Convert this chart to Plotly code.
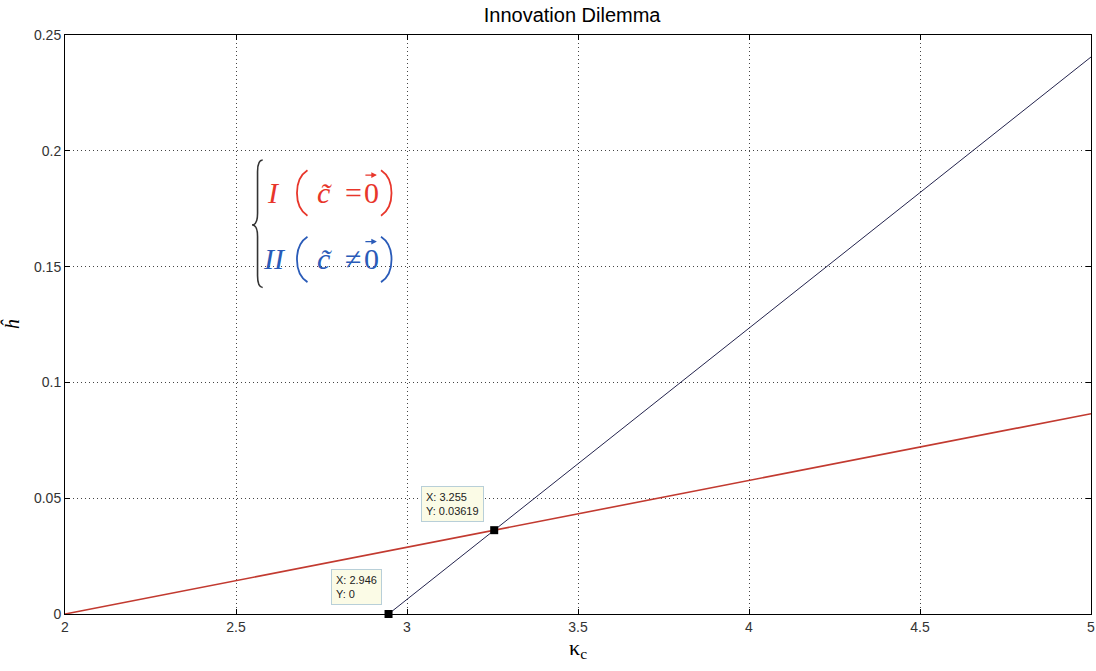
import plotly.graph_objects as go

# curve I (red) and curve II (dark)
kappa_I = [2.0, 3.255, 5.0]
h_I = [0.0, 0.03619, 0.0865]
kappa_II = [2.946, 3.255, 5.0]
h_II = [0.0, 0.03619, 0.2405]

# data tips
tip_x = [2.946, 3.255]
tip_y = [0.0, 0.03619]
tip_text = ["X: 2.946<br>Y: 0", "X: 3.255<br>Y: 0.03619"]

x_ticks = [2, 2.5, 3, 3.5, 4, 4.5, 5]
x_labels = ["2", "2.5", "3", "3.5", "4", "4.5", "5"]
y_ticks = [0, 0.05, 0.1, 0.15, 0.2, 0.25]
y_labels = ["0", "0.05", "0.1", "0.15", "0.2", "0.25"]

RED = "#e8362b"
BLUE = "#2a5bb8"

fig = go.Figure()
fig.add_trace(go.Scatter(x=kappa_I, y=h_I, mode="lines",
                         line=dict(color="#c23a30", width=1.6), showlegend=False))
fig.add_trace(go.Scatter(x=kappa_II, y=h_II, mode="lines",
                         line=dict(color="#23234d", width=1), showlegend=False))
fig.add_trace(go.Scatter(x=tip_x, y=tip_y, mode="markers",
                         marker=dict(color="black", size=8, symbol="square"),
                         showlegend=False, cliponaxis=False))

# data tip boxes
for x, y, t, xs, ys in zip(tip_x, tip_y, tip_text, [-7, -10], [9, 8]):
    fig.add_annotation(x=x, y=y, text=t, showarrow=False, align="left",
                       xanchor="right", yanchor="bottom", xshift=xs, yshift=ys,
                       font=dict(family="Liberation Sans", size=11, color="#222"),
                       bgcolor="#fbfbe6", bordercolor="#b8cfd8", borderwidth=1,
                       borderpad=4)

# brace
xr, xm, xl = 2.578, 2.563, 2.547
yt, ymid, yb, d = 0.196, 0.168, 0.141, 0.005
brace = (f"M {xr},{yt} Q {xm},{yt} {xm},{yt - d} L {xm},{ymid + d} "
         f"Q {xm},{ymid} {xl},{ymid} Q {xm},{ymid} {xm},{ymid - d} "
         f"L {xm},{yb + d} Q {xm},{yb} {xr},{yb}")
fig.add_shape(type="path", path=brace, xref="x", yref="y",
              line=dict(color="#333", width=1.6))


def piece(x, y, text, color, size=30):
    fig.add_annotation(x=x, y=y, xanchor="left", yanchor="middle", showarrow=False,
                       text=text, font=dict(family="Liberation Serif", size=size, color=color))


def vec_arrow(x, y, color):
    fig.add_annotation(x=x, y=y, ax=-13, ay=0, text="", showarrow=True,
                       arrowhead=2, arrowsize=0.8, arrowwidth=1.4, arrowcolor=color)


def parens(yc, color):
    h = 0.0098
    left = (f"M 2.709,{yc + h} C 2.668,{yc + h * 0.6} 2.668,{yc - h * 0.6} 2.709,{yc - h}")
    right = (f"M 2.924,{yc + h} C 2.965,{yc + h * 0.6} 2.965,{yc - h * 0.6} 2.924,{yc - h}")
    for p in (left, right):
        fig.add_shape(type="path", path=p, xref="x", yref="y",
                      line=dict(color=color, width=1.8))


# legend line I
piece(2.586, 0.1822, "<i>I</i>", RED)
piece(2.732, 0.1822, "<i>c\u0303</i>", RED)
piece(2.812, 0.1822, "=", RED)
piece(2.868, 0.1822, "0", RED)
vec_arrow(2.912, 0.1895, RED)
parens(0.1818, RED)

# legend line II
piece(2.574, 0.1537, "<i>II</i>", BLUE)
piece(2.732, 0.1537, "<i>c\u0303</i>", BLUE)
piece(2.812, 0.1537, "\u2260", BLUE)
piece(2.868, 0.1537, "0", BLUE)
vec_arrow(2.912, 0.1608, BLUE)
parens(0.1531, BLUE)

axis_common = dict(showline=True, linecolor="black", linewidth=1, mirror="allticks",
                   ticks="inside", ticklen=5, tickcolor="black",
                   showgrid=True, gridcolor="#444", griddash="1px,3px", gridwidth=1,
                   zeroline=False, automargin=False, ticklabeloverflow="allow",
                   tickfont=dict(family="Liberation Sans", size=14, color="#333"))

fig.update_layout(
    width=1096, height=671,
    margin=dict(l=65, r=5, t=35, b=57),
    paper_bgcolor="white", plot_bgcolor="white",
    title=dict(text="Innovation Dilemma", x=0.522, xanchor="center", y=0.988, yanchor="top",
               pad=dict(t=0),
               font=dict(family="Liberation Sans", size=20, color="black")),
    xaxis=dict(range=[2, 5], tickvals=x_ticks, ticktext=x_labels,
               title=dict(text="\u03ba<sub>c</sub>", standoff=3,
                          font=dict(family="Liberation Serif", size=22, color="black")),
               **axis_common),
    yaxis=dict(range=[0, 0.25], tickvals=y_ticks, ticktext=y_labels,
               title=dict(text="<i>h\u0302</i>", standoff=16,
                          font=dict(family="Liberation Serif", size=20, color="black")),
               **axis_common),
)

# drop the default page margin so the figure fills the window exactly
fig.write_html("out.html", config={"displayModeBar": False},
               post_script="document.body.style.margin = '0';")
